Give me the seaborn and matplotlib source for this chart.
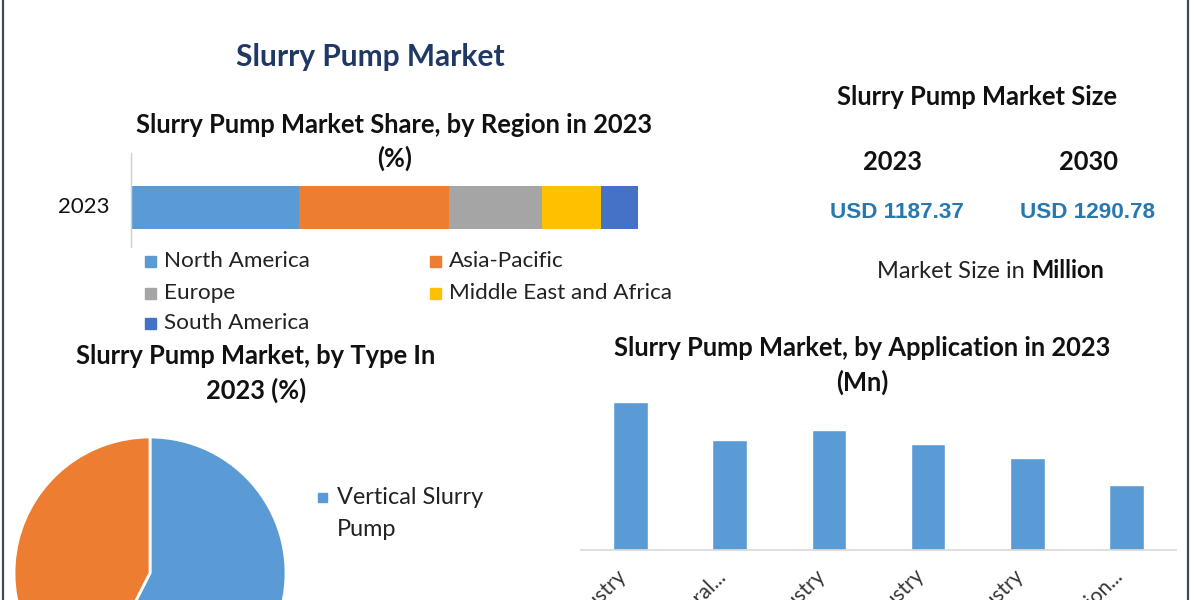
import matplotlib
matplotlib.use("Agg")
import matplotlib.pyplot as plt
import seaborn as sns
import pandas as pd
from matplotlib.lines import Line2D

sns.set_theme(style="white")
plt.rcParams['font.family'] = ['Lato', 'DejaVu Sans']

# ---------------- data ----------------
regions = ["North America", "Asia-Pacific", "Europe", "Middle East and Africa", "South America"]
region_share = [33.1, 29.6, 18.3, 11.6, 7.3]
region_colors = ["#5B9BD5", "#ED7D31", "#A5A5A5", "#FFC000", "#4472C4"]

types = ["Vertical Slurry Pump", "Horizontal Slurry Pump"]
type_share = [57.5, 42.5]
type_colors = ["#5B9BD5", "#ED7D31"]

applications = ["Mining Industry", "Mineral...", "Oil & Gas Industry",
                "Chemical Industry", "Power Industry", "Construction..."]
app_values = [273.4, 203.6, 222.7, 196.7, 170.8, 120.1]

size_years = ["2023", "2030"]
size_values = ["USD 1187.37", "USD 1290.78"]

W, H = 1200, 600
fig = plt.figure(figsize=(12, 6), dpi=100)
fig.patch.set_facecolor("white")

def fx(x):
    return x / W

def fy(y):
    return 1 - y / H

def axes_px(left, top, right, bottom):
    return fig.add_axes([fx(left), fy(bottom), fx(right - left), (bottom - top) / H])

TITLE_FS = 18.4

# border lines
fig.add_artist(Line2D([fx(3), fx(3)], [0, 1], color="#3d4b52", lw=1.6))
fig.add_artist(Line2D([fx(1188), fx(1188)], [0, 1], color="#3d4b52", lw=1.6))

# main title
fig.text(fx(370), fy(57), "Slurry Pump Market", ha="center", va="center",
         fontsize=21.5, fontweight="bold", color="#1F3864")

# ---------------- region stacked bar ----------------
fig.text(fx(394), fy(125), "Slurry Pump Market Share, by Region in 2023",
         ha="center", va="center", fontsize=TITLE_FS, fontweight="bold", color="#111111")
fig.text(fx(395), fy(158), "(%)", ha="center", va="center",
         fontsize=TITLE_FS, fontweight="bold", color="#111111")

ax1 = axes_px(131, 153, 638, 247)
left = 0
for name, val, col in zip(regions, region_share, region_colors):
    df = pd.DataFrame({"yr": [0], "v": [val]})
    ax1.barh(df["yr"], df["v"], left=left, height=0.8, color=col, label=name, edgecolor="none")
    left += val
ax1.set_xlim(0, sum(region_share))
ax1.set_ylim(-0.735, 1.014)
ax1.set_xticks([])
ax1.set_yticks([])
for s in ["top", "right", "bottom"]:
    ax1.spines[s].set_visible(False)
ax1.spines["left"].set_color("#d0d0d0")
ax1.spines["left"].set_linewidth(1)
ax1.set_facecolor("none")
fig.text(fx(84), fy(207), "2023", ha="center", va="center", fontsize=16, color="#111111")

# legend (manual grid of entries)
leg_pos = [(150, 261), (435, 261), (150, 293), (435, 293), (150, 323)]
for (x, y), i in zip(leg_pos, range(len(regions))):
    fig.patches.append(plt.Rectangle((fx(x - 5), fy(y + 6)), 11 / W, 11 / H,
                                     transform=fig.transFigure, color=region_colors[i]))
    fig.text(fx(x + 14), fy(y), regions[i], ha="left", va="center",
             fontsize=16.2, color="#222222")

# ---------------- market size panel ----------------
fig.text(fx(977), fy(97), "Slurry Pump Market Size", ha="center", va="center",
         fontsize=TITLE_FS, fontweight="bold", color="#111111")
for xpos, yr in zip([893, 1089], size_years):
    fig.text(fx(xpos), fy(162), yr, ha="center", va="center",
             fontsize=TITLE_FS, fontweight="bold", color="#111111")
for xpos, val in zip([897, 1088], size_values):
    fig.text(fx(xpos), fy(213), val, ha="center", va="center",
             fontsize=16.2, fontweight="bold", color="#2878B0",
             family=["Liberation Sans", "DejaVu Sans"])
t1 = fig.text(fx(877), fy(271), "Market Size in", ha="left", va="center",
              fontsize=17, color="#222222")
renderer = fig.canvas.get_renderer()
bb = t1.get_window_extent(renderer=renderer)
fig.text(fx(bb.x1 + 6), fy(271), "Million", ha="left", va="center",
         fontsize=17, fontweight="bold", color="#111111")

# ---------------- pie by type ----------------
fig.text(fx(256), fy(356), "Slurry Pump Market, by Type In", ha="center", va="center",
         fontsize=TITLE_FS, fontweight="bold", color="#111111")
fig.text(fx(256), fy(390), "2023 (%)", ha="center", va="center",
         fontsize=TITLE_FS, fontweight="bold", color="#111111")

ax2 = axes_px(14, 437, 286, 709)
ax2.pie(type_share, colors=type_colors, startangle=90, counterclock=False,
        wedgeprops=dict(edgecolor="white", linewidth=2))
ax2.set_xlim(-1.0, 1.0)
ax2.set_ylim(-1.0, 1.0)
ax2.set_aspect("equal")
ax2.axis("off")

fig.patches.append(plt.Rectangle((fx(318), fy(502)), 9 / W, 9 / H,
                                 transform=fig.transFigure, color=type_colors[0]))
fig.text(fx(337), fy(497), "Vertical Slurry", ha="left", va="center",
         fontsize=16.9, color="#222222")
fig.text(fx(337), fy(529), "Pump", ha="left", va="center",
         fontsize=16.9, color="#222222")

# ---------------- bar by application ----------------
fig.text(fx(862), fy(348), "Slurry Pump Market, by Application in 2023", ha="center",
         va="center", fontsize=TITLE_FS, fontweight="bold", color="#111111")
fig.text(fx(862), fy(382), "(Mn)", ha="center", va="center",
         fontsize=TITLE_FS, fontweight="bold", color="#111111")

ax3 = axes_px(581, 396, 1176, 550)
df_app = pd.DataFrame({"app": applications, "val": app_values})
sns.barplot(data=df_app, x="app", y="val", color="#5B9BD5", saturation=1,
            width=0.35, ax=ax3)
ax3.set_xlim(-0.5, len(applications) - 0.5)
ax3.set_ylim(0, 285)
ax3.set_xlabel("")
ax3.set_ylabel("")
ax3.set_yticks([])
for s in ["top", "right", "left"]:
    ax3.spines[s].set_visible(False)
ax3.spines["bottom"].set_color("#d9d9d9")
ax3.spines["bottom"].set_linewidth(1.2)
ax3.tick_params(axis="x", length=0, pad=22)
ax3.set_xticks(range(len(applications)))
labels = ax3.set_xticklabels(applications, rotation=45, ha="right", va="bottom",
                             rotation_mode="anchor", fontsize=15, color="#333333")
ax3.set_facecolor("none")

fig.savefig("out.png", dpi=100, facecolor="white")
